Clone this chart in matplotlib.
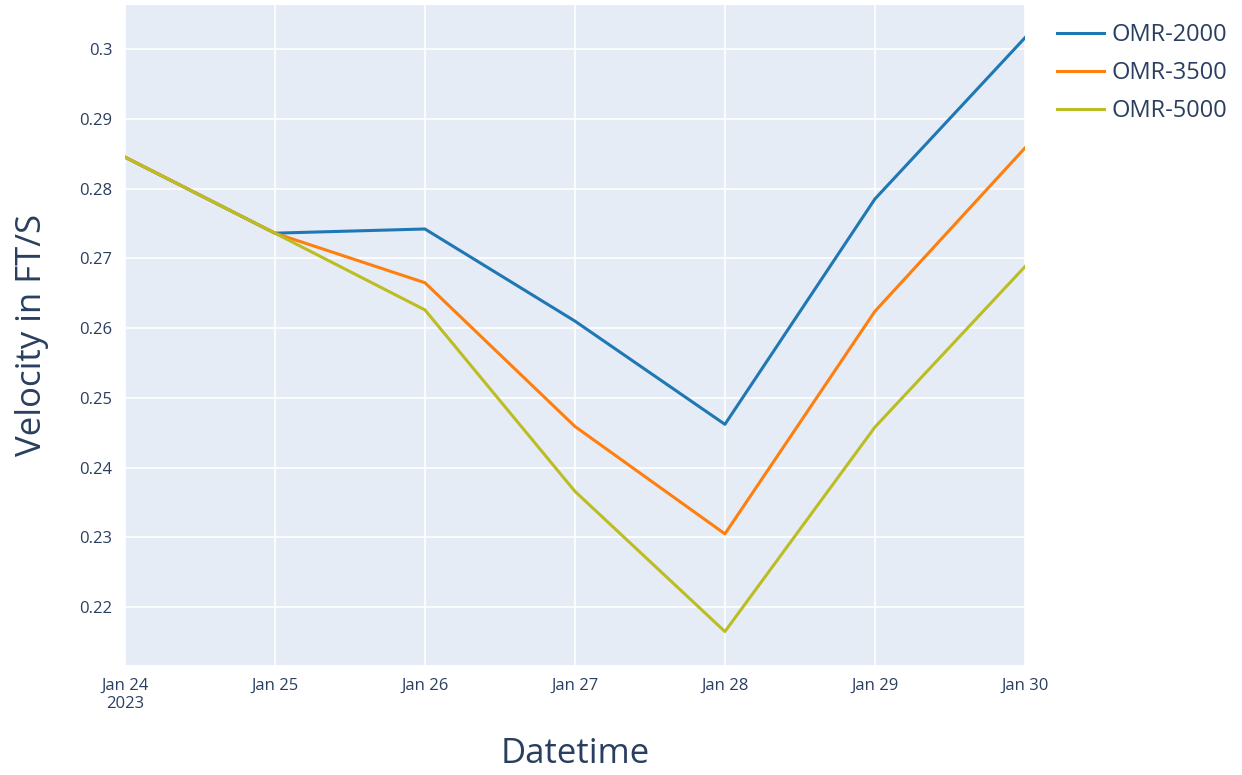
import matplotlib
matplotlib.use("Agg")
import matplotlib.pyplot as plt
import pandas as pd

plt.rcParams['font.family'] = ['Open Sans', 'DejaVu Sans']

dates = pd.to_datetime(["2023-01-24", "2023-01-25", "2023-01-26", "2023-01-27",
                        "2023-01-28", "2023-01-29", "2023-01-30"])
omr_2000 = [0.2845, 0.2736, 0.2742, 0.2610, 0.2462, 0.2785, 0.3016]
omr_3500 = [0.2845, 0.2736, 0.2665, 0.2459, 0.2305, 0.2624, 0.2858]
omr_5000 = [0.2845, 0.2736, 0.2626, 0.2366, 0.2165, 0.2458, 0.2688]
tick_labels = ["Jan 24\n2023", "Jan 25", "Jan 26", "Jan 27", "Jan 28", "Jan 29", "Jan 30"]

text_col = "#2a3f5f"

fig = plt.figure(figsize=(12.42, 7.75), dpi=100)
ax = fig.add_axes([0.1006, 0.1419, 0.7246, 0.8516])
ax.set_facecolor("#E5ECF6")

ax.plot(dates, omr_2000, color="#1f77b4", lw=2.2, label="OMR-2000")
ax.plot(dates, omr_3500, color="#ff7f0e", lw=2.2, label="OMR-3500")
ax.plot(dates, omr_5000, color="#bcbd22", lw=2.2, label="OMR-5000")

ax.set_xlim(dates[0], dates[-1])
ax.set_ylim(0.2117, 0.3063)
ax.set_xticks(dates)
ax.set_xticklabels(tick_labels)
ax.set_yticks([0.22, 0.23, 0.24, 0.25, 0.26, 0.27, 0.28, 0.29, 0.3])
ax.set_yticklabels(["0.22", "0.23", "0.24", "0.25", "0.26", "0.27", "0.28", "0.29", "0.3"])

ax.grid(True, color="white", lw=1.2)
ax.set_axisbelow(True)
for s in ax.spines.values():
    s.set_visible(False)
ax.tick_params(length=0, labelsize=12, labelcolor=text_col, pad=9)

ax.set_xlabel("Datetime", fontsize=25, color=text_col, labelpad=18)
ax.set_ylabel("Velocity in FT/S", fontsize=25, color=text_col, labelpad=22)

fig.legend(loc="upper left", bbox_to_anchor=(0.834, 0.998), frameon=False,
           fontsize=17, labelcolor=text_col, handlelength=2.0, handletextpad=0.3,
           labelspacing=0.6)

fig.savefig("out.png", dpi=100)
